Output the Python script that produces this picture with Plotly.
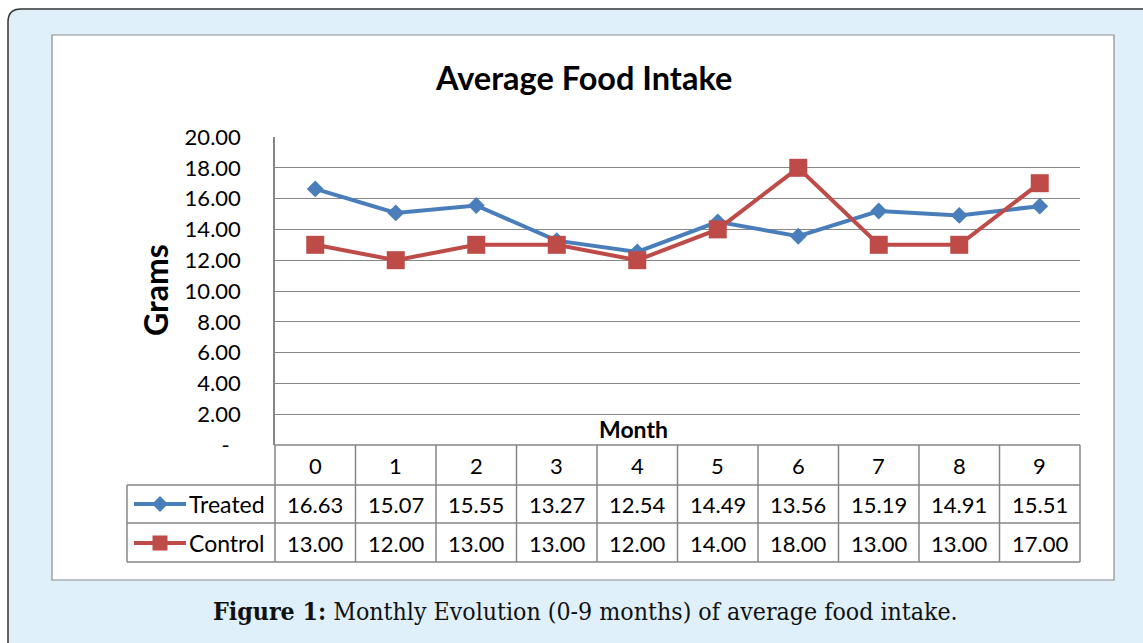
import plotly.graph_objects as go

months = [0, 1, 2, 3, 4, 5, 6, 7, 8, 9]
treated = [16.63, 15.07, 15.55, 13.27, 12.54, 14.49, 13.56, 15.19, 14.91, 15.51]
control = [13.00, 12.00, 13.00, 13.00, 12.00, 14.00, 18.00, 13.00, 13.00, 17.00]
y_ticks = [0, 2, 4, 6, 8, 10, 12, 14, 16, 18, 20]
series_names = ["Treated", "Control"]

W, H = 1143, 643
L, R, T, B = 275, 1080, 137, 445
BLUE = "#4a7ebb"
RED = "#be4b48"
GRID = "#868686"
FONT = "Lato"


def PX(x):
    return (x - L) / (R - L)


def PY(y):
    return (B - y) / (B - T)


def pt(x, y):
    return f"{PX(x)},{PY(y)}"


fig = go.Figure()
fig.add_trace(go.Scatter(
    x=months, y=treated, name=series_names[0], mode="lines+markers",
    line=dict(color=BLUE, width=4),
    marker=dict(symbol="diamond", size=13, color=BLUE),
))
fig.add_trace(go.Scatter(
    x=months, y=control, name=series_names[1], mode="lines+markers",
    line=dict(color=RED, width=4),
    marker=dict(symbol="square", size=18, color=RED),
))

shapes = []
# outer light-blue frame with rounded corner
shapes.append(dict(
    type="path", xref="paper", yref="paper", layer="below",
    path=f"M {pt(8, 720)} L {pt(8, 22)} Q {pt(8, 9)} {pt(21, 9)} L {pt(1200, 9)} L {pt(1200, 720)} Z",
    fillcolor="#dff0fb", line=dict(color="#333333", width=1.5),
))
# inner white box
shapes.append(dict(
    type="rect", xref="paper", yref="paper", layer="below",
    x0=PX(52), x1=PX(1114), y0=PY(35), y1=PY(580),
    fillcolor="white", line=dict(color="#8c8c8c", width=1.2),
))

# data table grid
row_lines = [445, 485, 523, 562]
for i, yl in enumerate(row_lines):
    x0 = L if i == 0 else 127
    shapes.append(dict(type="line", xref="paper", yref="paper",
                       x0=PX(x0), x1=1, y0=PY(yl), y1=PY(yl),
                       line=dict(color=GRID, width=1.5)))
n = len(months)
for i in range(n + 1):
    shapes.append(dict(type="line", xref="paper", yref="paper",
                       x0=i / n, x1=i / n, y0=PY(445), y1=PY(562),
                       line=dict(color=GRID, width=1.5)))
shapes.append(dict(type="line", xref="paper", yref="paper",
                   x0=PX(127), x1=PX(127), y0=PY(485), y1=PY(562),
                   line=dict(color=GRID, width=1.5)))

# legend keys in the table
key_rows = [504, 543]
for yk, col, sym in zip(key_rows, [BLUE, RED], ["diamond", "square"]):
    shapes.append(dict(type="line", xref="paper", yref="paper",
                       x0=PX(134), x1=PX(186), y0=PY(yk), y1=PY(yk),
                       line=dict(color=col, width=4)))
    cx = 160
    if sym == "diamond":
        shapes.append(dict(type="path", xref="paper", yref="paper",
                           path=f"M {pt(cx - 8, yk)} L {pt(cx, yk - 8)} L {pt(cx + 8, yk)} L {pt(cx, yk + 8)} Z",
                           fillcolor=col, line=dict(width=0)))
    else:
        shapes.append(dict(type="rect", xref="paper", yref="paper",
                           x0=PX(cx - 7.5), x1=PX(cx + 7.5), y0=PY(yk - 7.5), y1=PY(yk + 7.5),
                           fillcolor=col, line=dict(width=0)))

annotations = []
tfont = dict(family=FONT, size=22, color="#000000")
for m in months:
    annotations.append(dict(x=m, xref="x", y=PY(465), yref="paper", text=str(m),
                            showarrow=False, font=tfont, xanchor="center", yanchor="middle"))
for vals, yk in zip([treated, control], key_rows):
    for m, v in zip(months, vals):
        annotations.append(dict(x=m, xref="x", y=PY(yk), yref="paper", text=f"{v:.2f}",
                                showarrow=False, font=tfont, xanchor="center", yanchor="middle"))
for name, yk in zip(series_names, key_rows):
    annotations.append(dict(x=PX(187), xref="paper", y=PY(yk), yref="paper", text=name,
                            showarrow=False, font=dict(family=FONT, size=23, color="#000"),
                            xanchor="left", yanchor="middle"))

annotations.append(dict(x=PX(633), xref="paper", y=PY(429), yref="paper", text="<b>Month</b>",
                        showarrow=False, font=dict(family=FONT, size=23, color="#000"),
                        xanchor="center", yanchor="middle"))
annotations.append(dict(x=PX(583), xref="paper", y=PY(77), yref="paper", text="<b>Average Food Intake</b>",
                        showarrow=False, font=dict(family=FONT, size=32.5, color="#000"),
                        xanchor="center", yanchor="middle"))
annotations.append(dict(x=PX(155), xref="paper", y=PY(290), yref="paper", text="<b>Grams</b>",
                        showarrow=False, textangle=-90, font=dict(family=FONT, size=32, color="#000"),
                        xanchor="center", yanchor="middle"))
annotations.append(dict(x=PX(585), xref="paper", y=PY(611), yref="paper",
                        text="<b>Figure 1:</b> Monthly Evolution (0-9 months) of average food intake.",
                        showarrow=False, font=dict(family="DejaVu Serif Condensed", size=24.7, color="#111"),
                        xanchor="center", yanchor="middle"))

tick_text = [("-\u00a0\u00a0" if v == 0 else f"{v:.2f}") for v in y_ticks]

fig.update_layout(
    width=W, height=H,
    margin=dict(l=L, r=W - R, t=T, b=H - B, pad=0),
    paper_bgcolor="white",
    plot_bgcolor="rgba(0,0,0,0)",
    showlegend=False,
    shapes=shapes,
    annotations=annotations,
    xaxis=dict(range=[-0.5, 9.5], visible=False, fixedrange=True),
    yaxis=dict(range=[0, 20], tickvals=y_ticks, ticktext=tick_text,
               showgrid=True, gridcolor=GRID, gridwidth=1.2,
               showline=True, linecolor=GRID, linewidth=1.5,
               zeroline=False, ticks="", ticklabelstandoff=28,
               tickfont=dict(family=FONT, size=22, color="#000")),
)

fig.write_html("out.html", config={"displayModeBar": False},
               post_script="document.body.style.margin='0';document.body.style.overflow='hidden';")
